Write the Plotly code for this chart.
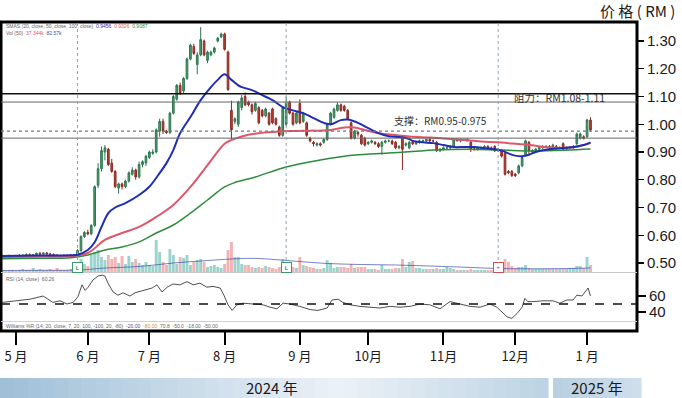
import plotly.graph_objects as go

# ---------------- data ----------------
# trading-day index 0..172 (late Apr 2024 .. early Jan 2025)
opens = [.525,.522,.525,.52,.523,.527,.525,.528,.53,.527,.53,.535,.532,.536,.533,.53,.528,.525,.527,.524,.528,.526,.53,
         .545,.595,.61,.605,.635,.78,.84,.90,.91,.86,.83,.77,.785,.775,.795,.82,.835,.81,.855,.86,.88,.895,.90,.975,1.01,.975,.97,
         1.04,1.09,1.14,1.12,1.165,1.235,1.28,1.215,1.25,1.30,1.23,1.25,1.26,1.30,1.315,1.325,1.26,1.05,1.01,1.0,
         1.06,1.10,1.08,1.07,1.05,1.06,1.05,1.03,1.04,1.055,1.02,.99,.96,1.0,1.08,1.04,1.005,1.075,1.01,1.005,
         .95,.935,.925,.93,.935,.945,1.0,1.025,1.05,1.07,1.065,1.05,1.005,.95,.97,.96,.95,.93,.935,.935,
         .93,.92,.935,.94,.94,.935,.915,.955,.925,.915,.935,.93,.935,.94,.94,.945,.94,.935,.905,.91,
         .915,.915,.92,.945,.94,.945,.945,.935,.91,.91,.915,.915,.92,.915,.92,.905,.905,.895,.83,.83,
         .82,.825,.85,.89,.935,.90,.905,.91,.915,.92,.92,.915,.92,.915,.93,.91,.915,.915,.93,.95,
         .955,.955,1.015]
highs = [.53,.528,.53,.527,.53,.532,.53,.535,.535,.532,.538,.54,.538,.54,.537,.535,.532,.53,.532,.53,.533,.532,.55,
         .60,.615,.62,.64,.78,.86,.92,.925,.915,.875,.835,.79,.79,.80,.83,.845,.84,.865,.87,.89,.905,.91,.985,1.02,1.02,.98,1.045,
         1.105,1.145,1.15,1.17,1.24,1.29,1.29,1.26,1.35,1.305,1.265,1.265,1.28,1.315,1.33,1.33,1.265,1.085,1.025,1.085,
         1.105,1.115,1.085,1.075,1.08,1.065,1.055,1.06,1.045,1.06,1.025,.995,1.065,1.10,1.085,1.045,1.045,1.09,1.045,1.01,
         .955,.94,.935,.935,.95,1.005,1.045,1.06,1.08,1.075,1.07,1.055,1.01,.98,.975,.965,.955,.94,.945,.94,
         .935,.94,.945,.945,.945,.94,.925,.96,.935,.94,.94,.94,.945,.945,.945,.95,.945,.94,.915,.92,
         .92,.925,.95,.95,.95,.95,.95,.94,.915,.92,.92,.925,.925,.92,.925,.915,.91,.90,.835,.835,
         .825,.855,.885,.945,.94,.91,.915,.92,.925,.925,.925,.93,.925,.92,.935,.92,.92,.925,.97,.97,
         .96,1.02,1.025]
lows = [.52,.518,.52,.515,.52,.522,.52,.525,.525,.52,.527,.53,.528,.53,.527,.525,.522,.52,.522,.52,.523,.522,.528,
        .54,.59,.60,.60,.63,.77,.83,.87,.85,.825,.77,.75,.765,.77,.79,.815,.80,.805,.845,.85,.875,.89,.895,.955,.965,.965,.965,
        1.035,1.085,1.105,1.11,1.16,1.23,1.25,1.18,1.245,1.245,1.22,1.245,1.255,1.295,1.31,1.265,1.12,.945,1.0,.99,
        1.05,1.065,1.065,1.035,1.045,1.0,1.025,1.025,.995,1.0,.995,.955,.955,.995,1.035,.995,1.0,1.0,1.005,.955,
        .935,.92,.92,.92,.93,.94,.995,1.02,1.045,1.045,1.045,1.015,.945,.945,.955,.925,.92,.925,.93,.925,
        .915,.89,.93,.935,.925,.91,.91,.835,.92,.91,.925,.925,.93,.935,.935,.935,.935,.90,.90,.905,
        .91,.91,.915,.94,.935,.94,.94,.90,.905,.905,.91,.91,.91,.905,.90,.90,.88,.815,.82,.81,
        .81,.82,.845,.885,.89,.895,.90,.905,.91,.915,.91,.91,.91,.91,.905,.905,.91,.91,.925,.945,
        .945,.95,.975]
closes = [.522,.525,.52,.523,.527,.525,.528,.53,.527,.53,.535,.532,.536,.533,.53,.528,.525,.527,.524,.528,.526,.53,.545,
          .595,.61,.605,.635,.775,.84,.905,.915,.855,.83,.775,.785,.775,.795,.825,.835,.81,.855,.865,.885,.90,.90,.98,1.01,.975,.97,1.04,
          1.10,1.14,1.11,1.165,1.235,1.285,1.255,1.25,1.305,1.25,1.26,1.26,1.275,1.31,1.325,1.27,1.125,.98,1.02,1.08,
          1.095,1.07,1.07,1.045,1.075,1.005,1.03,1.055,1.0,1.005,1.0,.96,1.06,1.08,1.04,1.0,1.04,1.005,1.04,.96,
          .94,.93,.93,.925,.945,1.0,1.04,1.055,1.07,1.05,1.05,1.02,.95,.975,.965,.93,.925,.935,.94,.93,
          .92,.935,.94,.94,.93,.915,.92,.91,.93,.935,.93,.935,.94,.94,.945,.94,.94,.905,.91,.915,
          .915,.92,.945,.94,.945,.945,.94,.91,.91,.915,.915,.92,.915,.91,.905,.91,.885,.82,.825,.815,
          .815,.85,.88,.94,.905,.905,.91,.915,.92,.92,.915,.925,.915,.915,.91,.915,.918,.92,.965,.965,
          .95,1.015,.98]
# volume (thousand shares)
volume = [200,100,200,200,100,200,300,200,200,400,200,300,200,200,300,200,400,200,200,200,300,200,300,
          1300,800,600,1700,2000,2200,1500,1200,1700,1300,1500,900,1600,800,1600,1000,1300,900,700,1000,700,600,3200,2000,1000,700,2300,
          1700,800,1500,1400,1700,700,1000,1200,1300,1000,500,600,700,500,400,800,2200,3000,1500,1500,
          800,700,700,500,400,500,400,600,500,400,300,500,1300,1000,400,500,400,1500,700,600,
          500,400,300,300,400,1200,900,400,500,500,500,400,800,400,500,500,500,300,300,300,
          200,700,300,300,300,400,400,1300,500,1000,1100,400,400,300,300,300,300,400,300,300,
          500,400,300,200,200,200,200,300,200,200,200,200,200,200,300,300,900,1300,1000,600,
          400,500,500,700,400,300,300,300,300,300,300,300,300,300,300,300,400,400,600,600,
          400,1500,700]

# moving averages (index, value)
ma20_idx = [0,10,20,22,25,27,29,31,33,36,40,43,46,48,50,52,55,58,61,63,65,67,69,70,73,76,79,82,85,88,91,94,96,99,101,104,107,110,
            113,116,119,120,123,126,129,132,135,138,141,144,146,148,150,152,154,156,159,162,165,168,170,172]
ma20_val = [.525,.527,.528,.53,.547,.575,.63,.68,.70,.716,.745,.775,.824,.86,.907,.968,1.026,1.087,1.134,1.16,1.18,1.16,1.14,1.134,
            1.123,1.105,1.087,1.062,1.05,1.04,1.022,1.005,1.0,1.015,1.017,1.005,.986,.968,.957,.954,.947,.94,.935,.932,.925,.918,
            .918,.918,.914,.91,.905,.895,.887,.885,.89,.90,.908,.912,.915,.92,.925,.935]
ma50_idx = [0,10,20,25,30,35,40,45,50,55,60,65,67,70,75,80,85,90,95,100,103,106,110,115,119,125,130,135,140,145,148,152,155,158,162,166,169,172]
ma50_val = [.522,.523,.525,.536,.583,.608,.63,.666,.709,.774,.853,.93,.943,.956,.968,.973,.976,.977,.978,.988,.988,.979,.968,.961,
            .956,.952,.948,.943,.938,.935,.932,.928,.924,.918,.915,.916,.922,.932]
ma100_idx = [0,10,20,25,30,35,40,45,50,55,60,65,68,74,83,93,103,113,122,126,136,146,155,165,172]
ma100_val = [.515,.517,.519,.529,.547,.558,.576,.608,.637,.68,.727,.774,.79,.81,.846,.871,.889,.896,.904,.907,.91,.907,.904,.907,.911]
vol_ma_idx = [0,10,20,25,30,40,50,60,70,75,85,95,105,115,125,135,145,155,165,172]
vol_ma_val = [150,170,180,250,400,550,900,1150,1350,1350,1100,850,750,700,600,480,350,320,350,400]

# RSI(14)
rsi_idx = [0,2.3,5.2,8.1,11.9,14.8,16.9,18.9,20.7,22.1,23.3,24.2,25.1,26.5,28,29.2,30,30.9,32.4,33.8,35.3,37.3,38.8,41.1,43.8,
           45.2,46.7,48.2,49.9,52,54,55.8,57.8,59.8,61.6,63.7,64.8,66,67.2,68.6,70.4,73.3,76.2,78.3,80.3,82.1,84.1,87,90,92.3,
           95,96.4,98.2,99.6,101.7,104.6,107.5,110.4,113.4,116.3,119.2,122.1,125,128,130.9,133.8,136.8,139.7,142.6,144.6,146.1,
           147.6,149,150.5,152,152.8,153.7,155.2,158.1,161,163,165.1,166.9,168,169.5,170.4,171.3,172]
rsi_val = [52,53,54,56,60,52,54,50,52,59,74,67,71,80,85,86,85,76,65,61,64,60,64,67,70,74,65,71,75,74,78,74,76,71,72,70,61,49,42,
           49,51,50,49,46,44,51,50,47,43,42,45,55,56,52,49,47,46,45,47,46,47,50,49,44,53,50,47,46,50,46,40,34,32,38,46,57,53,53,
           54,54,51,55,55,61,60,65,70,60]

# price levels (support / resistance)
level_resist = [1.08, 1.11]
level_support = [0.95, 0.975]
# events (trading-day index) and kind
event_idx = [22, 83, 145]
event_kind = ["up", "up", "down"]

month_idx = [4, 25, 43, 65, 87, 107, 129, 150, 171]
month_labels = ["5 月", "6 月", "7 月", "8 月", "9 月", "10月", "11月", "12月", "1 月"]
price_ticks = [0.5, 0.6, 0.7, 0.8, 0.9, 1.0, 1.1, 1.2, 1.3]
rsi_ticks = [40, 60]
years = ["2024 年", "2025 年"]

# ---------------- figure ----------------
x = list(range(len(closes)))
up_col_vol = "rgba(96,184,172,0.62)"
dn_col_vol = "rgba(236,130,132,0.62)"
vol_colors = [up_col_vol if c >= o else dn_col_vol for o, c in zip(opens, closes)]

fig = go.Figure()
fig.add_trace(go.Bar(x=x, y=volume, marker=dict(color=vol_colors, line=dict(width=0)), width=0.85,
                     xaxis="x", yaxis="y", hoverinfo="skip"))
fig.add_trace(go.Scatter(x=vol_ma_idx, y=vol_ma_val, mode="lines", line=dict(color="rgba(60,80,170,0.7)", width=1, shape="spline"),
                         xaxis="x", yaxis="y", hoverinfo="skip"))
fig.add_trace(go.Scatter(x=ma100_idx, y=ma100_val, mode="lines", line=dict(color="#2e8b3e", width=1.5, shape="spline"),
                         xaxis="x", yaxis="y2"))
fig.add_trace(go.Scatter(x=ma50_idx, y=ma50_val, mode="lines", line=dict(color="#e0566a", width=2, shape="spline"),
                         xaxis="x", yaxis="y2"))
fig.add_trace(go.Scatter(x=ma20_idx, y=ma20_val, mode="lines", line=dict(color="#1f2db4", width=2, shape="spline"),
                         xaxis="x", yaxis="y2"))
fig.add_trace(go.Candlestick(x=x, open=opens, high=highs, low=lows, close=closes, xaxis="x", yaxis="y2",
                             increasing=dict(line=dict(color="#2f7650", width=1), fillcolor="#4d9d70"),
                             decreasing=dict(line=dict(color="#8a2a22", width=1), fillcolor="#bf4336"),
                             whiskerwidth=0))
fig.add_trace(go.Scatter(x=rsi_idx, y=rsi_val, mode="lines", line=dict(color="#222", width=0.8),
                         xaxis="x", yaxis="y3"))

W_PLOT = 636.0
H_PLOT = 309.0
def px_x(p):
    return (p - 1) / W_PLOT
def px_y(p):
    return (331 - p) / H_PLOT

shapes = []
# frame
shapes.append(dict(type="rect", xref="paper", yref="paper", x0=0, x1=1, y0=0, y1=1, line=dict(color="black", width=3)))
# panel separators
shapes.append(dict(type="line", xref="paper", yref="paper", x0=0, x1=1, y0=px_y(272.5), y1=px_y(272.5), line=dict(color="#c8c8c8", width=1)))
shapes.append(dict(type="line", xref="paper", yref="paper", x0=0, x1=1, y0=px_y(321.5), y1=px_y(321.5), line=dict(color="#d0d0d0", width=1)))
# support / resistance lines
shapes.append(dict(type="line", xref="paper", yref="y2", x0=0, x1=1, y0=level_resist[1], y1=level_resist[1], line=dict(color="#111", width=1.6)))
shapes.append(dict(type="line", xref="paper", yref="y2", x0=0, x1=1, y0=level_resist[0], y1=level_resist[0], line=dict(color="#666", width=1)))
shapes.append(dict(type="line", xref="paper", yref="y2", x0=0, x1=1, y0=level_support[1], y1=level_support[1], line=dict(color="#777", width=1.2, dash="dot")))
shapes.append(dict(type="line", xref="paper", yref="y2", x0=0, x1=1, y0=level_support[0], y1=level_support[0], line=dict(color="#666", width=1)))
# RSI mid line
shapes.append(dict(type="line", xref="paper", yref="y3", x0=0, x1=1, y0=50, y1=50, line=dict(color="#111", width=1.3, dash="dash")))
# event lines
for ei in event_idx:
    shapes.append(dict(type="line", xref="x", yref="paper", x0=ei, x1=ei, y0=px_y(266), y1=1, line=dict(color="#8aa0b8", width=1, dash="dot")))

# year bands with gradient strips
def lerp(c1, c2, t):
    return tuple(int(round(a + (b - a) * t)) for a, b in zip(c1, c2))
c_left, c_mid, c_right = (160, 192, 216), (236, 242, 247), (190, 212, 228)
n = 40
x0p, x1p = 0.0, 548.0
for i in range(n):
    t = i / (n - 1)
    if t < 0.62:
        col = lerp(c_left, c_mid, t / 0.62)
    else:
        col = lerp(c_mid, c_right, (t - 0.62) / 0.38)
    a = x0p + (x1p - x0p) * i / n
    b = x0p + (x1p - x0p) * (i + 1) / n + 0.6
    shapes.append(dict(type="rect", xref="paper", yref="paper", x0=px_x(a), x1=px_x(b), y0=px_y(398), y1=px_y(378),
                       line=dict(width=0), fillcolor="rgb(%d,%d,%d)" % col, layer="below"))
for i in range(10):
    t = i / 9
    col = lerp((186, 208, 226), (206, 222, 235), t)
    a = 553 + 88 * i / 10
    b = 553 + 88 * (i + 1) / 10 + 0.6
    shapes.append(dict(type="rect", xref="paper", yref="paper", x0=px_x(a), x1=px_x(b), y0=px_y(398), y1=px_y(378),
                       line=dict(width=0), fillcolor="rgb(%d,%d,%d)" % col, layer="below"))

annotations = []
cjk = "Noto Sans CJK SC, Liberation Sans, sans-serif"
annotations.append(dict(xref="paper", yref="paper", x=px_x(677), y=px_y(10), xanchor="right", yanchor="middle",
                        text="价 格 ( RM )", showarrow=False, font=dict(family=cjk, size=15, color="#1a1a1a")))
annotations.append(dict(xref="x", yref="y2", x=149, y=(level_resist[0] + level_resist[1]) / 2, xanchor="left", yanchor="middle",
                        text="阻力：RM%.2f-%.2f" % (level_resist[0], level_resist[1]), showarrow=False,
                        font=dict(family=cjk, size=10.5, color="#333")))
annotations.append(dict(xref="x", yref="y2", x=114, y=level_support[1] + 0.005, xanchor="left", yanchor="bottom",
                        text="支撑：RM%.2f-%.3f" % (level_support[0], level_support[1]), showarrow=False,
                        font=dict(family=cjk, size=10, color="#333")))
annotations.append(dict(xref="paper", yref="paper", x=px_x(272), y=px_y(387), xanchor="center", yanchor="middle",
                        text=years[0], showarrow=False, font=dict(family=cjk, size=15, color="#1a1a1a")))
annotations.append(dict(xref="paper", yref="paper", x=px_x(597), y=px_y(387), xanchor="center", yanchor="middle",
                        text=years[1], showarrow=False, font=dict(family=cjk, size=15, color="#1a1a1a")))
# tiny indicator legends
tiny = dict(family="Liberation Sans, sans-serif", size=5, color="#666")
annotations.append(dict(xref="paper", yref="paper", x=px_x(4), y=px_y(26), xanchor="left", yanchor="middle", showarrow=False,
                        text="SMAS (20, close, 50, close, 100, close)  <span style='color:#1f2db4'>0.9456</span>  "
                             "<span style='color:#e0566a'>0.9326</span>  <span style='color:#2e8b3e'>0.9087</span>",
                        font=tiny))
annotations.append(dict(xref="paper", yref="paper", x=px_x(4), y=px_y(33), xanchor="left", yanchor="middle", showarrow=False,
                        text="Vol (50)  <span style='color:#e0566a'>37.344k</span>  <span style='color:#3c50aa'>82.57k</span>",
                        font=tiny))
annotations.append(dict(xref="paper", yref="paper", x=px_x(4), y=px_y(279), xanchor="left", yanchor="middle", showarrow=False,
                        text="RSI (14, close)  60.26", font=tiny))
annotations.append(dict(xref="paper", yref="paper", x=px_x(4), y=px_y(326), xanchor="left", yanchor="middle", showarrow=False,
                        text="Williams %R (14, 20, close, 7, 20, 100, -100, 20, -80)  <span style='color:#3c50aa'>-20.00</span>  "
                             "<span style='color:#e08a3a'>-80.00</span>  70.8  -50.0  -18.00  -50.00",
                        font=tiny))
# event markers
for ei, kind in zip(event_idx, event_kind):
    col = "#3a9a6a" if kind == "up" else "#d0505a"
    annotations.append(dict(xref="x", yref="paper", x=ei, y=px_y(267), xanchor="center", yanchor="middle", showarrow=False,
                            text="<b>L</b>" if kind == "up" else "<b>+</b>", font=dict(size=6, color=col),
                            bordercolor=col, borderwidth=1, borderpad=1, bgcolor="white", width=7, height=7))

fig.update_layout(
    width=682, height=398,
    margin=dict(l=1, r=45, t=22, b=67, autoexpand=False),
    paper_bgcolor="white", plot_bgcolor="white",
    showlegend=False,
    shapes=shapes, annotations=annotations,
    xaxis=dict(domain=[0, 1], range=[-0.39, 185.6], anchor="free", position=0,
               tickmode="array", tickvals=month_idx, ticktext=month_labels,
               ticks="outside", ticklen=13, tickwidth=2, tickcolor="black",
               showgrid=False, zeroline=False, showline=False,
               tickfont=dict(family=cjk, size=13, color="#1a1a1a"),
               rangeslider=dict(visible=False), fixedrange=True),
    yaxis=dict(domain=[px_y(272), 1], range=[0, 25000], visible=False, showgrid=False, fixedrange=True),
    yaxis2=dict(overlaying="y", side="right", anchor="x", range=[0.4676, 1.3685],
                tickmode="array", tickvals=price_ticks, ticktext=["%.2f" % v for v in price_ticks],
                ticks="outside", ticklen=6, tickwidth=1.2, tickcolor="black",
                showgrid=False, zeroline=False, showline=False,
                tickfont=dict(family="Liberation Sans, sans-serif", size=15, color="#1a1a1a")),
    yaxis3=dict(domain=[px_y(321), px_y(273)], range=[28.75, 88.75], side="right", anchor="x",
                tickmode="array", tickvals=rsi_ticks, ticktext=[str(v) for v in rsi_ticks],
                ticks="outside", ticklen=8, tickwidth=1.2, tickcolor="black",
                showgrid=False, zeroline=False, showline=False,
                tickfont=dict(family="Liberation Sans, sans-serif", size=15, color="#1a1a1a")),
)

fig.write_html("out.html",
               config={"displayModeBar": False, "staticPlot": True},
               post_script="document.body.style.margin='0';document.body.style.padding='0';"
                           "document.documentElement.style.overflow='hidden';")
